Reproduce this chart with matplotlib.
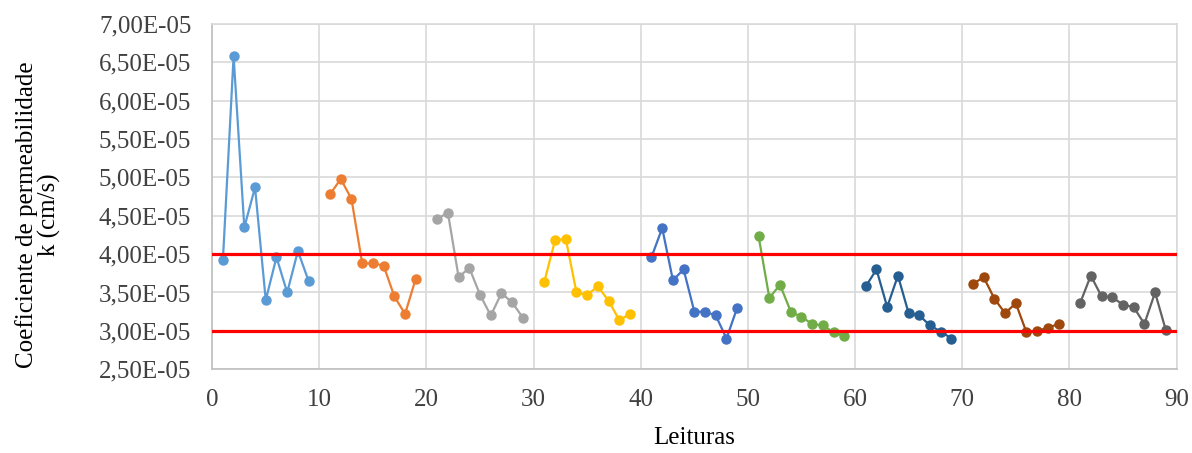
import matplotlib.pyplot as plt
from matplotlib.ticker import FuncFormatter, MultipleLocator

plt.rcParams['font.family'] = ['Liberation Serif', 'DejaVu Serif']

# leituras (x) e valores de k (x1e-5 cm/s) por ensaio
leituras = [
    [1, 2, 3, 4, 5, 6, 7, 8, 9],
    [11, 12, 13, 14, 15, 16, 17, 18, 19],
    [21, 22, 23, 24, 25, 26, 27, 28, 29],
    [31, 32, 33, 34, 35, 36, 37, 38, 39],
    [41, 42, 43, 44, 45, 46, 47, 48, 49],
    [51, 52, 53, 54, 55, 56, 57, 58, 59],
    [61, 62, 63, 64, 65, 66, 67, 68, 69],
    [71, 72, 73, 74, 75, 76, 77, 78, 79],
    [81, 82, 83, 84, 85, 86, 87, 88, 89],
]
k1 = [3.92, 6.58, 4.35, 4.87, 3.40, 3.96, 3.50, 4.04, 3.65]
k2 = [4.78, 4.98, 4.72, 3.88, 3.88, 3.85, 3.45, 3.22, 3.68]
k3 = [4.46, 4.54, 3.70, 3.82, 3.47, 3.20, 3.49, 3.37, 3.17]
k4 = [3.64, 4.18, 4.20, 3.50, 3.47, 3.58, 3.39, 3.14, 3.22]
k5 = [3.96, 4.34, 3.66, 3.80, 3.25, 3.25, 3.20, 2.90, 3.30]
k6 = [4.23, 3.43, 3.60, 3.25, 3.18, 3.09, 3.07, 2.98, 2.93]
k7 = [3.58, 3.80, 3.31, 3.72, 3.23, 3.20, 3.07, 2.99, 2.90]
k8 = [3.61, 3.70, 3.42, 3.23, 3.36, 2.98, 3.00, 3.04, 3.09]
k9 = [3.36, 3.72, 3.45, 3.44, 3.34, 3.31, 3.09, 3.50, 3.01]
series = [k1, k2, k3, k4, k5, k6, k7, k8, k9]

limite_sup = 4.0e-5
limite_inf = 3.0e-5
x_range = [0, 90]

cores = ['#5B9BD5', '#ED7D31', '#A5A5A5', '#FFC000', '#4472C4',
         '#70AD47', '#255E91', '#9E480E', '#636363']

fig = plt.figure(figsize=(11.92, 4.53), dpi=100)
ax = fig.add_subplot(1, 1, 1)
fig.subplots_adjust(left=0.178, right=0.987, top=0.947, bottom=0.185)

for xs, ks, c in zip(leituras, series, cores):
    ax.plot(xs, [v * 1e-5 for v in ks], color=c, lw=1.6, marker='o',
            markersize=6.5, zorder=3)

ax.plot(x_range, [limite_sup, limite_sup], color='#FF0000', lw=2.3, zorder=4)
ax.plot(x_range, [limite_inf, limite_inf], color='#FF0000', lw=2.3, zorder=4)

ax.set_xlim(0, 90)
ax.set_ylim(2.5e-5, 7.0e-5)
ax.xaxis.set_major_locator(MultipleLocator(10))
ax.yaxis.set_major_locator(MultipleLocator(0.5e-5))
ax.yaxis.set_major_formatter(FuncFormatter(
    lambda v, p: ('%.2f' % (v * 1e5)).replace('.', ',') + 'E-05'))

ax.grid(True, color='#D9D9D9', lw=1.2, zorder=0)
ax.set_axisbelow(True)
for s in ax.spines.values():
    s.set_color('#D9D9D9')
    s.set_linewidth(1.2)
ax.spines['left'].set_color('#BFBFBF')
ax.spines['bottom'].set_color('#BFBFBF')
ax.tick_params(length=0, labelsize=18, colors='#404040')
ax.tick_params(axis='x', pad=14)
ax.tick_params(axis='y', pad=15)

ax.set_xlabel('Leituras', fontsize=18, labelpad=12)
fig.text(0.032, 0.525, 'Coeficiente de permeabilidade\nk (cm/s)', rotation=90,
         ha='center', va='center', multialignment='center', fontsize=18,
         linespacing=1.0)

fig.savefig('out.png', dpi=100)
